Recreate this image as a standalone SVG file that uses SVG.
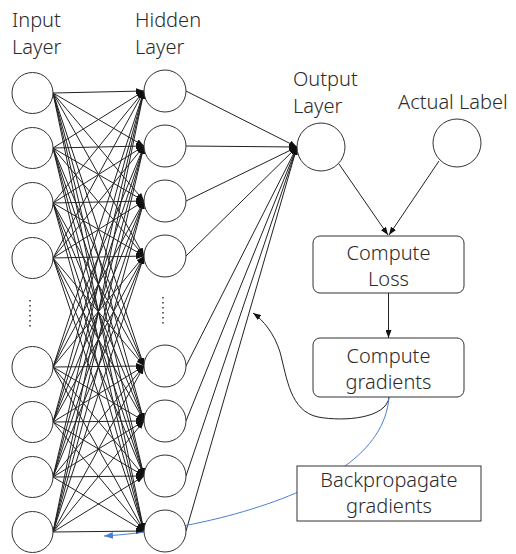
<svg xmlns="http://www.w3.org/2000/svg" width="516" height="554" viewBox="0 0 516 554">
  <style>
    text { font-family: "Noto Sans", "Liberation Sans", sans-serif; font-size: 20px; font-weight: 300; fill: #2a2a2a; }
    .c { text-anchor: middle; }
    .node { fill: #fff; stroke: #333; stroke-width: 1; }
    .box { fill: #fff; stroke: #333; stroke-width: 1; }
    .e { fill: none; stroke: #222; stroke-width: 1; marker-end: url(#arr); }
    .dots { fill: none; stroke: #333; stroke-width: 1.5; stroke-dasharray: 1.5 3.5; }
  </style>
  <defs>
    <marker id="arr" viewBox="0 0 8 6" refX="8" refY="3" markerWidth="8" markerHeight="6" orient="auto" markerUnits="userSpaceOnUse">
      <path d="M0,0L8,3L0,6z" fill="#111"/>
    </marker>
    <marker id="arrBlue" viewBox="0 0 8 6" refX="8" refY="3" markerWidth="9" markerHeight="7" orient="auto" markerUnits="userSpaceOnUse">
      <path d="M0,0L8,3L0,6z" fill="#4a7fd4"/>
    </marker>
  </defs>

  <rect width="516" height="554" fill="#fff"/>

  <!-- layer titles -->
  <g id="titles">
    <text x="12" y="27">Input</text>
    <text x="12" y="54">Layer</text>
    <text x="135" y="27">Hidden</text>
    <text x="135" y="54">Layer</text>
    <text x="293" y="86">Output</text>
    <text x="293" y="113">Layer</text>
    <text x="398" y="109">Actual Label</text>
  </g>

  <!-- connectors -->
  <g id="connectors">
    <!-- input -> hidden, fully connected -->
    <path class="e" d="M53,93L144,91"/><path class="e" d="M53,93L144,146"/><path class="e" d="M53,93L144,201"/><path class="e" d="M53,93L144,256"/>
    <path class="e" d="M53,93L144,366"/><path class="e" d="M53,93L144,421"/><path class="e" d="M53,93L144,476"/><path class="e" d="M53,93L144,531"/>
    <path class="e" d="M53,148L144,91"/><path class="e" d="M53,148L144,146"/><path class="e" d="M53,148L144,201"/><path class="e" d="M53,148L144,256"/>
    <path class="e" d="M53,148L144,366"/><path class="e" d="M53,148L144,421"/><path class="e" d="M53,148L144,476"/><path class="e" d="M53,148L144,531"/>
    <path class="e" d="M53,203L144,91"/><path class="e" d="M53,203L144,146"/><path class="e" d="M53,203L144,201"/><path class="e" d="M53,203L144,256"/>
    <path class="e" d="M53,203L144,366"/><path class="e" d="M53,203L144,421"/><path class="e" d="M53,203L144,476"/><path class="e" d="M53,203L144,531"/>
    <path class="e" d="M53,258L144,91"/><path class="e" d="M53,258L144,146"/><path class="e" d="M53,258L144,201"/><path class="e" d="M53,258L144,256"/>
    <path class="e" d="M53,258L144,366"/><path class="e" d="M53,258L144,421"/><path class="e" d="M53,258L144,476"/><path class="e" d="M53,258L144,531"/>
    <path class="e" d="M53,367L144,91"/><path class="e" d="M53,367L144,146"/><path class="e" d="M53,367L144,201"/><path class="e" d="M53,367L144,256"/>
    <path class="e" d="M53,367L144,366"/><path class="e" d="M53,367L144,421"/><path class="e" d="M53,367L144,476"/><path class="e" d="M53,367L144,531"/>
    <path class="e" d="M53,422L144,91"/><path class="e" d="M53,422L144,146"/><path class="e" d="M53,422L144,201"/><path class="e" d="M53,422L144,256"/>
    <path class="e" d="M53,422L144,366"/><path class="e" d="M53,422L144,421"/><path class="e" d="M53,422L144,476"/><path class="e" d="M53,422L144,531"/>
    <path class="e" d="M53,477L144,91"/><path class="e" d="M53,477L144,146"/><path class="e" d="M53,477L144,201"/><path class="e" d="M53,477L144,256"/>
    <path class="e" d="M53,477L144,366"/><path class="e" d="M53,477L144,421"/><path class="e" d="M53,477L144,476"/><path class="e" d="M53,477L144,531"/>
    <path class="e" d="M53,532L144,91"/><path class="e" d="M53,532L144,146"/><path class="e" d="M53,532L144,201"/><path class="e" d="M53,532L144,256"/>
    <path class="e" d="M53,532L144,366"/><path class="e" d="M53,532L144,421"/><path class="e" d="M53,532L144,476"/><path class="e" d="M53,532L144,531"/>

    <!-- hidden -> output -->
    <path class="e" d="M186,91L297,147"/><path class="e" d="M186,146L297,147"/>
    <path class="e" d="M186,201L297,147"/><path class="e" d="M186,256L297,147"/>
    <path class="e" d="M186,366L297,147"/><path class="e" d="M186,421L297,147"/>
    <path class="e" d="M186,476L297,147"/><path class="e" d="M186,531L297,147"/>

    <!-- output / label -> loss -->
    <path class="e" d="M339,164L388,235"/>
    <path class="e" d="M439,161L389,235"/>
    <!-- loss -> gradients -->
    <path class="e" d="M388.5,293L388.5,338"/>
    <!-- weight update loop -->
    <path class="e" d="M389,397C387,418 345,422 318,417C290,411 287,378 280,352C274,333 263,320 253,313"/>
    <!-- backpropagation path -->
    <path d="M389,397C387,425 370,448 345,466C300,500 200,530 104,536" fill="none" stroke="#4a7fd4" stroke-width="1" marker-end="url(#arrBlue)"/>
  </g>

  <!-- input layer -->
  <g id="input-layer">
    <circle class="node" cx="32.5" cy="93" r="20.5"/>
    <circle class="node" cx="32.5" cy="148" r="20.5"/>
    <circle class="node" cx="32.5" cy="203" r="20.5"/>
    <circle class="node" cx="32.5" cy="258" r="20.5"/>
    <path class="dots" d="M30,300V330"/>
    <circle class="node" cx="32.5" cy="367" r="20.5"/>
    <circle class="node" cx="32.5" cy="422" r="20.5"/>
    <circle class="node" cx="32.5" cy="477" r="20.5"/>
    <circle class="node" cx="32.5" cy="532" r="20.5"/>
  </g>

  <!-- hidden layer -->
  <g id="hidden-layer">
    <circle class="node" cx="165" cy="91" r="21"/>
    <circle class="node" cx="165" cy="146" r="21"/>
    <circle class="node" cx="165" cy="201" r="21"/>
    <circle class="node" cx="165" cy="256" r="21"/>
    <path class="dots" d="M163,297V327"/>
    <circle class="node" cx="165" cy="366" r="21"/>
    <circle class="node" cx="165" cy="421" r="21"/>
    <circle class="node" cx="165" cy="476" r="21"/>
    <circle class="node" cx="165" cy="531" r="21"/>
  </g>

  <g id="output-node">
    <circle class="node" cx="321" cy="147" r="24"/>
  </g>

  <g id="label-node">
    <circle class="node" cx="457" cy="143" r="24"/>
  </g>

  <g id="compute-loss">
    <rect class="box" x="313" y="236" width="151" height="57" rx="7"/>
    <text class="c" x="388.5" y="260">Compute</text>
    <text class="c" x="388.5" y="286">Loss</text>
  </g>

  <g id="compute-gradients">
    <rect class="box" x="313" y="338" width="151" height="59" rx="7"/>
    <text class="c" x="388.5" y="363">Compute</text>
    <text class="c" x="388.5" y="389">gradients</text>
  </g>

  <g id="backpropagate">
    <rect class="box" x="297" y="466" width="184" height="55"/>
    <text class="c" x="389" y="487">Backpropagate</text>
    <text class="c" x="389" y="513">gradients</text>
  </g>
</svg>
